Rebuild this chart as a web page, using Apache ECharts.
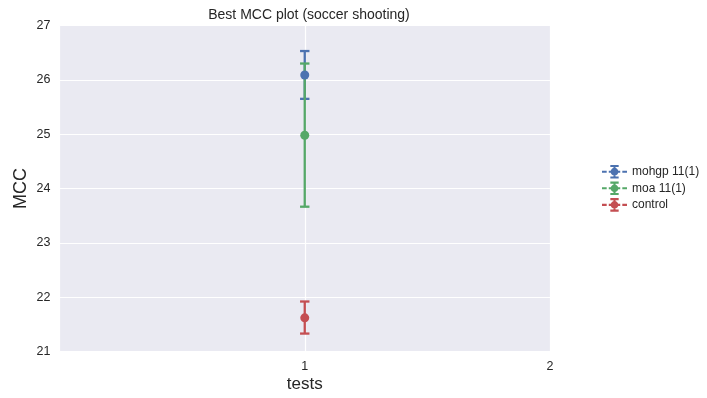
<!DOCTYPE html>
<html>
<head>
<meta charset="utf-8">
<script src="https://cdn.jsdelivr.net/npm/echarts@6/dist/echarts.min.js"></script>
<style>
  html, body { margin: 0; padding: 0; background: #ffffff; }
  #chart { width: 707px; height: 398px; }
</style>
</head>
<body>
<div id="chart"></div>
<script>
// Best MCC per configuration, with error bar bounds
const seriesNames = ['mohgp 11(1)', 'moa 11(1)', 'control'];
const testPositions = [1, 1, 1];
const meanValues = [26.09, 24.98, 21.62];
const lowerValues = [25.65, 23.665, 21.33];
const upperValues = [26.53, 26.30, 21.92];
const seriesColors = ['#4C72B0', '#55A868', '#C44E52'];
const xTicks = [1, 2];
const yTicks = [21, 22, 23, 24, 25, 26, 27];

const FONT = '"Liberation Sans", Arial, sans-serif';

// legend glyph: dashed line, error bar with caps, round marker
const legendIcon = 'path://M0,11L9,11L9,15L0,15Z M39,11L48,11L48,15L39,15Z M13,11L35,11L35,15L13,15Z M22,2L26,2L26,24L22,24Z M16,0L32,0L32,4L16,4Z M16,22L32,22L32,26L16,26Z M24,5.5C28.1,5.5 31.5,8.9 31.5,13C31.5,17.1 28.1,20.5 24,20.5C19.9,20.5 16.5,17.1 16.5,13C16.5,8.9 19.9,5.5 24,5.5Z';

const chart = echarts.init(document.getElementById('chart'), null, { renderer: 'canvas' });

const errorSeries = seriesNames.map((name, i) => ({
  name: name,
  type: 'custom',
  z: 2,
  itemStyle: { color: seriesColors[i] },
  data: [[testPositions[i], lowerValues[i], upperValues[i]]],
  renderItem: function (params, api) {
    const x = api.value(0);
    const lo = api.coord([x, api.value(1)]);
    const hi = api.coord([x, api.value(2)]);
    const half = 4.7;
    const style = { stroke: seriesColors[i], lineWidth: 2.3, fill: null };
    return {
      type: 'group',
      children: [
        { type: 'line', shape: { x1: lo[0], y1: lo[1], x2: hi[0], y2: hi[1] }, style: style },
        { type: 'line', shape: { x1: hi[0] - half, y1: hi[1], x2: hi[0] + half, y2: hi[1] }, style: style },
        { type: 'line', shape: { x1: lo[0] - half, y1: lo[1], x2: lo[0] + half, y2: lo[1] }, style: style }
      ]
    };
  }
}));

const pointSeries = seriesNames.map((name, i) => ({
  name: name,
  type: 'scatter',
  z: 3,
  symbol: 'circle',
  symbolSize: 9,
  itemStyle: { color: seriesColors[i], opacity: 1 },
  data: [[testPositions[i], meanValues[i]]]
}));

const option = {
  backgroundColor: '#ffffff',
  animation: false,
  title: {
    text: 'Best MCC plot (soccer shooting)',
    left: 304,
    textAlign: 'center',
    top: 3,
    textStyle: { fontFamily: FONT, fontSize: 14, fontWeight: 'normal', color: '#262626' }
  },
  legend: {
    orient: 'vertical',
    left: 597,
    top: 160,
    itemWidth: 25,
    itemHeight: 14,
    itemGap: 3,
    icon: legendIcon,
    data: seriesNames,
    textStyle: { fontFamily: FONT, fontSize: 12, color: '#262626' },
    selectedMode: false
  },
  grid: {
    left: 59.5,
    right: 157,
    top: 25.5,
    bottom: 46.5,
    show: true,
    backgroundColor: '#EAEAF2',
    borderWidth: 0
  },
  xAxis: {
    type: 'value',
    min: 0,
    max: 2,
    interval: 1,
    name: 'tests',
    nameLocation: 'middle',
    nameGap: 24,
    nameMoveOverlap: false,
    nameTextStyle: { fontFamily: FONT, fontSize: 17, color: '#262626' },
    axisLine: { show: false },
    axisTick: { show: false },
    axisLabel: {
      margin: 9,
      fontFamily: FONT,
      fontSize: 12.5,
      color: '#262626',
      formatter: v => (xTicks.indexOf(v) >= 0 ? String(v) : '')
    },
    splitLine: { show: true, lineStyle: { color: '#ffffff', width: 1.2 } }
  },
  yAxis: {
    type: 'value',
    min: 21,
    max: 27,
    interval: 1,
    name: 'MCC',
    nameLocation: 'middle',
    nameGap: 29,
    nameMoveOverlap: false,
    nameTextStyle: { fontFamily: FONT, fontSize: 18, color: '#262626' },
    axisLine: { show: false },
    axisTick: { show: false },
    axisLabel: {
      margin: 9,
      fontFamily: FONT,
      fontSize: 12.5,
      color: '#262626',
      formatter: v => (yTicks.indexOf(v) >= 0 ? String(v) : '')
    },
    splitLine: { show: true, lineStyle: { color: '#ffffff', width: 1.2 } }
  },
  series: errorSeries.concat(pointSeries)
};

chart.setOption(option);
</script>
</body>
</html>
